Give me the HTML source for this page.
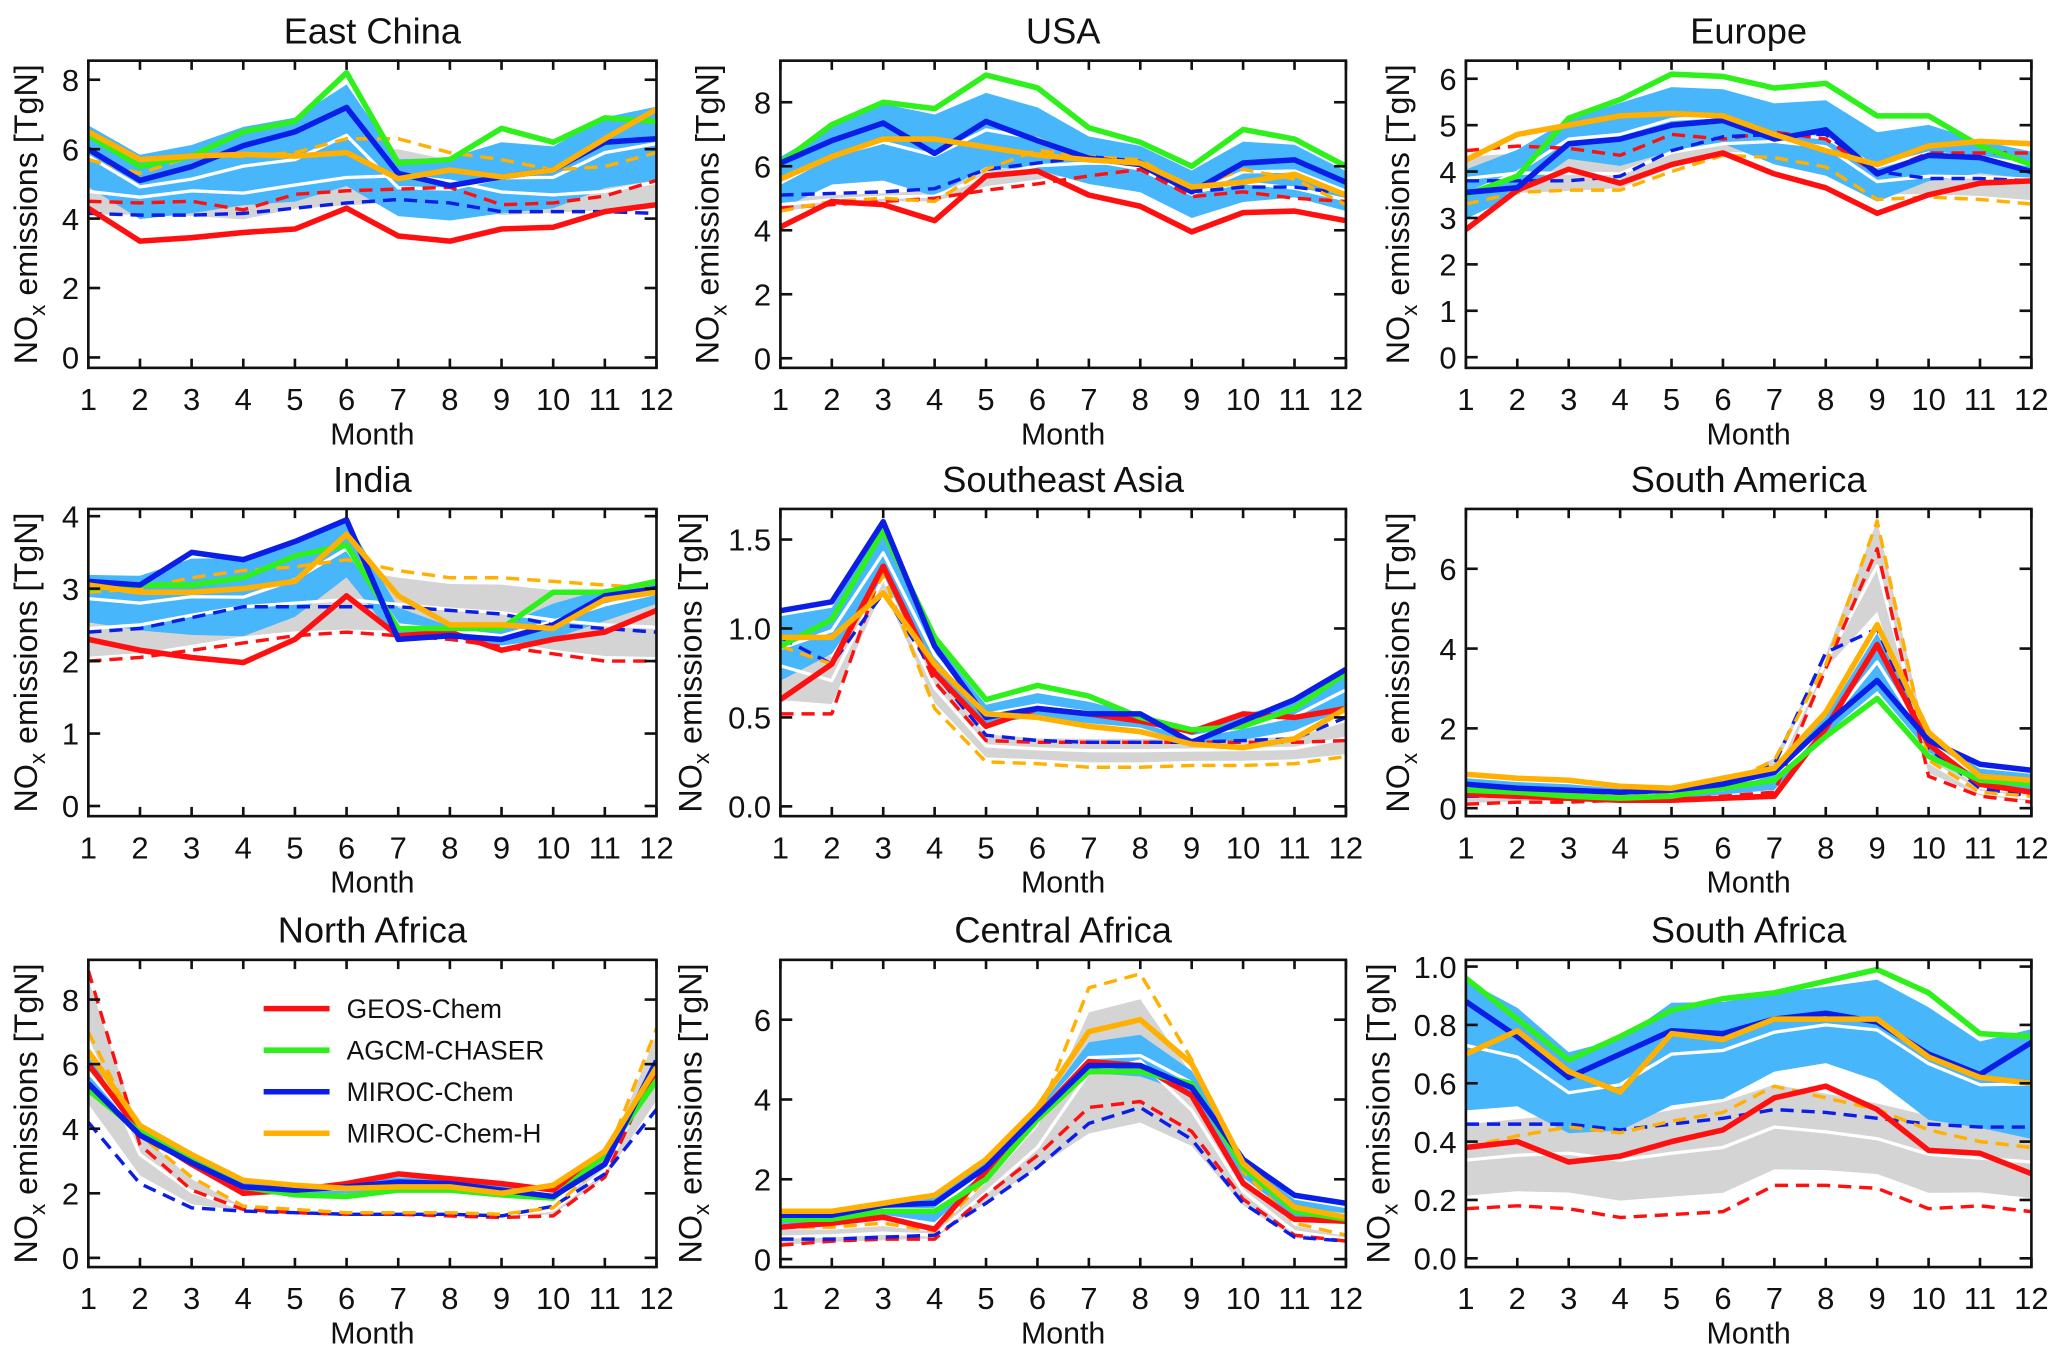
<!DOCTYPE html>
<html><head><meta charset="utf-8"><title>NOx emissions by region</title>
<style>html,body{margin:0;padding:0;background:#fff}svg{display:block}</style></head>
<body>
<svg id="fig" xmlns="http://www.w3.org/2000/svg" width="2067" height="1362" viewBox="0 0 1568 1033" preserveAspectRatio="none" font-family="'Liberation Sans', sans-serif"></svg>
<script>
const months = [1,2,3,4,5,6,7,8,9,10,11,12];
const regions = ["East China","USA","Europe","India","Southeast Asia","South America","North Africa","Central Africa","South Africa"];
const yTicks = [[0,2,4,6,8],[0,2,4,6,8],[0,1,2,3,4,5,6],[0,1,2,3,4],[0,0.5,1.0,1.5],[0,2,4,6],[0,2,4,6,8],[0,2,4,6],[0,0.2,0.4,0.6,0.8,1.0]];
const yTickDec = [0,0,0,0,1,0,0,0,1];
const yMin = [-0.3,-0.3,-0.23,-0.14,-0.055,-0.2,-0.285,-0.2,-0.03];
const yMax = [8.55,9.3,6.39,4.1,1.672,7.5,9.23,7.5,1.023];
const seriesNames = ["GEOS-Chem","AGCM-CHASER","MIROC-Chem","MIROC-Chem-H"];
const gcSolid = [
[4.3,3.35,3.45,3.6,3.7,4.3,3.5,3.35,3.7,3.75,4.2,4.4],
[4.1,4.9,4.8,4.3,5.7,5.85,5.1,4.75,3.95,4.55,4.6,4.3],
[2.75,3.6,4.05,3.75,4.15,4.4,3.95,3.65,3.1,3.5,3.75,3.8],
[2.3,2.15,2.05,1.98,2.3,2.9,2.35,2.4,2.15,2.3,2.4,2.7],
[0.6,0.8,1.35,0.75,0.45,0.55,0.52,0.48,0.42,0.52,0.5,0.55],
[0.35,0.3,0.25,0.2,0.2,0.25,0.3,2.0,4.1,1.6,0.6,0.4],
[6.0,3.9,2.9,2.0,2.1,2.3,2.6,2.45,2.3,2.1,3.3,5.8],
[0.8,0.9,1.05,0.75,2.2,3.6,4.95,4.85,4.1,1.9,1.0,0.95],
[0.38,0.4,0.33,0.35,0.4,0.44,0.55,0.59,0.51,0.37,0.36,0.29]];
const chaserSolid = [
[6.4,5.5,5.8,6.5,6.8,8.2,5.6,5.7,6.6,6.2,6.9,6.8],
[6.1,7.3,8.0,7.8,8.85,8.45,7.2,6.75,6.0,7.15,6.85,6.0],
[3.5,3.9,5.15,5.55,6.1,6.05,5.8,5.9,5.2,5.2,4.55,4.15],
[3.0,3.05,3.05,3.15,3.45,3.6,2.45,2.45,2.45,2.95,2.95,3.1],
[0.9,1.05,1.55,0.95,0.6,0.68,0.62,0.5,0.43,0.45,0.55,0.75],
[0.45,0.4,0.3,0.25,0.3,0.5,0.7,1.8,2.75,1.3,0.7,0.6],
[5.2,3.9,3.0,2.2,1.95,1.9,2.1,2.1,1.95,1.85,3.2,5.5],
[1.0,1.0,1.2,1.2,2.0,3.5,4.7,4.7,4.4,2.3,1.2,1.0],
[0.96,0.82,0.68,0.76,0.85,0.89,0.91,0.95,0.99,0.91,0.77,0.76]];
const mirocSolid = [
[6.0,5.1,5.5,6.1,6.5,7.2,5.3,4.95,5.2,5.4,6.2,6.3],
[6.1,6.8,7.35,6.4,7.4,6.8,6.25,6.05,5.2,6.1,6.2,5.5],
[3.55,3.65,4.6,4.7,5.0,5.1,4.7,4.9,3.95,4.35,4.3,4.0],
[3.1,3.05,3.5,3.4,3.65,3.95,2.3,2.35,2.3,2.5,2.9,3.0],
[1.1,1.15,1.6,0.9,0.5,0.55,0.52,0.52,0.36,0.48,0.6,0.77],
[0.6,0.5,0.45,0.4,0.45,0.6,0.9,2.1,3.2,1.7,1.1,0.95],
[5.4,3.8,2.95,2.2,2.1,2.2,2.35,2.3,2.1,1.9,2.9,6.1],
[1.1,1.1,1.35,1.4,2.3,3.6,4.85,4.85,4.3,2.5,1.6,1.4],
[0.88,0.76,0.62,0.7,0.78,0.77,0.82,0.84,0.81,0.7,0.63,0.74]];
const mirocHSolid = [
[6.5,5.7,5.8,5.85,5.8,5.9,5.15,5.4,5.2,5.4,6.3,7.15],
[5.6,6.3,6.85,6.85,6.6,6.35,6.2,6.1,5.35,5.5,5.75,5.1],
[4.25,4.8,5.0,5.2,5.25,5.2,4.8,4.45,4.15,4.55,4.65,4.6],
[3.05,2.95,2.95,3.0,3.1,3.75,2.9,2.5,2.5,2.45,2.85,2.95],
[0.95,0.95,1.2,0.8,0.52,0.5,0.45,0.42,0.35,0.33,0.38,0.55],
[0.85,0.75,0.7,0.55,0.5,0.75,1.0,2.4,4.6,1.9,0.8,0.7],
[6.4,4.1,3.2,2.4,2.25,2.15,2.2,2.2,2.0,2.25,3.3,5.9],
[1.2,1.2,1.4,1.6,2.5,3.8,5.7,6.0,4.9,2.4,1.3,1.05],
[0.7,0.78,0.64,0.57,0.77,0.75,0.82,0.82,0.82,0.69,0.62,0.6]];
const gcDash = [
[4.5,4.45,4.5,4.25,4.7,4.8,4.85,4.9,4.4,4.45,4.65,5.1],
[4.7,4.8,4.9,5.0,5.25,5.45,5.7,5.9,5.05,5.2,5.0,4.9],
[4.45,4.55,4.5,4.35,4.8,4.7,4.85,4.7,3.95,4.4,4.4,4.4],
[2.0,2.05,2.15,2.25,2.35,2.4,2.35,2.3,2.2,2.1,2.0,2.0],
[0.52,0.52,1.35,0.7,0.37,0.36,0.36,0.36,0.36,0.36,0.36,0.37],
[0.1,0.15,0.15,0.2,0.2,0.3,0.4,3.5,6.5,0.8,0.3,0.15],
[8.9,3.5,2.1,1.5,1.4,1.35,1.35,1.3,1.25,1.3,2.5,6.0],
[0.35,0.45,0.5,0.5,1.6,2.6,3.8,3.95,3.2,1.5,0.6,0.45],
[0.17,0.18,0.17,0.14,0.15,0.16,0.25,0.25,0.24,0.17,0.18,0.16]];
const mirocDash = [
[4.15,4.1,4.1,4.15,4.3,4.45,4.55,4.45,4.2,4.2,4.2,4.15],
[5.1,5.15,5.2,5.3,5.9,6.1,6.3,6.15,5.2,5.35,5.35,5.15],
[3.8,3.8,3.8,3.9,4.45,4.75,4.8,4.8,4.0,3.85,3.85,3.8],
[2.4,2.45,2.6,2.75,2.75,2.75,2.75,2.7,2.65,2.5,2.45,2.4],
[0.95,0.8,1.2,0.75,0.4,0.37,0.36,0.36,0.36,0.37,0.38,0.5],
[0.3,0.3,0.3,0.3,0.35,0.5,1.1,3.9,4.5,1.5,0.5,0.3],
[4.2,2.3,1.55,1.45,1.4,1.35,1.35,1.35,1.3,1.6,2.6,4.6],
[0.5,0.5,0.55,0.6,1.4,2.3,3.4,3.8,3.0,1.4,0.55,0.45],
[0.46,0.46,0.46,0.44,0.46,0.48,0.51,0.5,0.48,0.46,0.45,0.45]];
const mirocHDash = [
[5.7,5.3,5.8,5.8,5.9,6.3,6.3,5.9,5.7,5.4,5.5,5.9],
[4.6,4.9,5.0,4.9,5.9,6.5,6.3,6.2,5.3,5.9,5.6,4.8],
[3.3,3.55,3.6,3.6,4.0,4.35,4.3,4.1,3.4,3.45,3.4,3.3],
[2.95,3.0,3.15,3.25,3.3,3.4,3.25,3.15,3.15,3.1,3.05,3.0],
[0.9,0.8,1.3,0.55,0.25,0.24,0.22,0.22,0.23,0.23,0.24,0.28],
[0.6,0.5,0.4,0.35,0.4,0.6,1.2,3.6,7.2,1.2,0.4,0.3],
[7.0,3.8,2.5,1.6,1.5,1.4,1.4,1.4,1.35,1.55,3.0,7.1],
[0.8,0.8,0.9,0.7,2.0,3.5,6.8,7.15,5.0,2.2,0.9,0.6],
[0.38,0.42,0.45,0.43,0.47,0.5,0.59,0.55,0.51,0.44,0.4,0.38]];

const NS = "http://www.w3.org/2000/svg";
const svg = document.getElementById("fig");
function mk(tag, attrs, parent){const e=document.createElementNS(NS,tag);for(const k in attrs)e.setAttribute(k,attrs[k]);(parent||svg).appendChild(e);return e;}
const colX = [[67,498],[592,1021],[1112,1541]];
const rowY = [[46,279],[386,619],[728,961]];
const ylabX = [[26,543,1067],[26,530,1067],[26,530,1052]];
const RED="#ff1010", GREEN="#2ef01a", BLUE="#0a1ee8", ORANGE="#ffb000";

function meanStd(arrs, i){const v=arrs.map(a=>a[i]);const m=v.reduce((s,x)=>s+x,0)/v.length;const sd=Math.sqrt(v.reduce((s,x)=>s+(x-m)*(x-m),0)/v.length);return [m,sd];}

regions.forEach((name, p) => {
  const r = Math.floor(p/3), c = p%3;
  const [x0,x1] = colX[c], [y0,y1] = rowY[r];
  const xs = m => x0 + (m-1)/(months.length-1)*(x1-x0);
  const ys = v => y1 - (v - yMin[p])/(yMax[p]-yMin[p])*(y1-y0);
  const g = mk("g", {});
  
  
  const clipId = "clip"+p;
  const cp = mk("clipPath",{id:clipId},g);
  mk("rect",{x:x0,y:y0,width:x1-x0,height:y1-y0},cp);
  const plot = mk("g",{"clip-path":"url(#"+clipId+")"},g);

  const solids = [gcSolid[p],chaserSolid[p],mirocSolid[p],mirocHSolid[p]];
  const dashes = [gcDash[p],mirocDash[p],mirocHDash[p]];
  function band(arrs, fill, nm){
    const st = months.map((m,i)=>meanStd(arrs,i));
    let d = months.map((m,i)=>(i?"L":"M")+xs(m)+","+ys(st[i][0]+st[i][1])).join("");
    for(let i=months.length-1;i>=0;i--) d += "L"+xs(months[i])+","+ys(st[i][0]-st[i][1]);
    const e = mk("path",{d:d+"Z",fill:fill,stroke:"none"},plot);
    
    
    return st;
  }
  const gs = band(dashes,"#d4d4d4","gray-spread-band");
  const bs = band(solids,"#48b6fa","blue-spread-band");
  function line(vals, color, w, dash, nm){
    const d = months.map((m,i)=>(i?"L":"M")+xs(m)+","+ys(vals[i])).join("");
    const e = mk("path",{d:d,fill:"none",stroke:color,"stroke-width":w,"stroke-linejoin":"round"},plot);
    if(dash) e.setAttribute("stroke-dasharray",dash);
    
    
  }
  line(gs.map(s=>s[0]),"#ffffff",2.5,null,"dashed-mean-line");
  line(bs.map(s=>s[0]),"#ffffff",2.5,null,"solid-mean-line");
  line(dashes[0],RED,2.6,"10,6","geos-chem-dashed");
  line(dashes[1],BLUE,2.6,"10,6","miroc-chem-dashed");
  line(dashes[2],ORANGE,2.6,"10,6","miroc-chem-h-dashed");
  line(solids[0],RED,4.2,null,"geos-chem-line");
  line(solids[1],GREEN,4.2,null,"agcm-chaser-line");
  line(solids[2],BLUE,4.2,null,"miroc-chem-line");
  line(solids[3],ORANGE,4.2,null,"miroc-chem-h-line");

  const bx = mk("rect",{x:x0,y:y0,width:x1-x0,height:y1-y0,fill:"none",stroke:"#111","stroke-width":2},g);
  
  
  months.forEach(m=>{
    const x=xs(m);
    mk("line",{x1:x,x2:x,y1:y1,y2:y1-7,stroke:"#111","stroke-width":2},g);
    mk("line",{x1:x,x2:x,y1:y0,y2:y0+7,stroke:"#111","stroke-width":2},g);
    const t = mk("text",{x:x,y:y1+32,"text-anchor":"middle","font-size":23.5,fill:"#111"},g);
    t.textContent = m;
    
    
  });
  yTicks[p].forEach(v=>{
    const y=ys(v);
    mk("line",{x1:x0,x2:x0+9,y1:y,y2:y,stroke:"#111","stroke-width":2},g);
    mk("line",{x1:x1,x2:x1-9,y1:y,y2:y,stroke:"#111","stroke-width":2},g);
    const t = mk("text",{x:x0-7,y:y+8.5,"text-anchor":"end","font-size":23.5,fill:"#111"},g);
    t.textContent = v.toFixed(yTickDec[p]);
    
    
  });
  const xl = mk("text",{x:(x0+x1)/2,y:y1+58,"text-anchor":"middle","font-size":23,fill:"#111"},g);
  xl.textContent = "Month";
  
  
  const tt = mk("text",{x:(x0+x1)/2,y:y0-13,"text-anchor":"middle","font-size":27.5,fill:"#111"},g);
  tt.textContent = name;
  
  
  const lx = ylabX[r][c]+2, ly=(y0+y1)/2;
  const yl = mk("text",{x:lx,y:ly,"text-anchor":"middle","font-size":24.5,fill:"#111",transform:"rotate(-90 "+lx+" "+ly+")"},g);
  
  
  yl.innerHTML = 'NO<tspan font-size="17" dy="6">x</tspan><tspan dy="-6"> emissions [TgN]</tspan>';
});

const legColors=[RED,GREEN,BLUE,ORANGE];
seriesNames.forEach((n,i)=>{
  const y = 765 + i*31.5;
  const l = mk("line",{x1:200,x2:250,y1:y,y2:y,stroke:legColors[i],"stroke-width":4.2});
  
  
  const t = mk("text",{x:263,y:y+7,"font-size":20,fill:"#111"});
  t.textContent = n;
  
  
});
</script>
</body></html>
